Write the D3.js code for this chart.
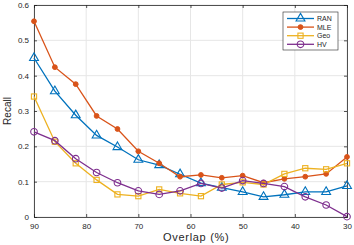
<!DOCTYPE html>
<html>
<head>
<meta charset="utf-8">
<script src="https://cdn.jsdelivr.net/npm/d3@7"></script>
<style>
  body { margin: 0; background: #fff; }
  svg { display: block; font-family: "Liberation Sans", Arial, sans-serif; }
</style>
</head>
<body>
<div id="chart"></div>
<script>
// overlap values on the x axis (reversed axis, 90 -> 30)
var overlap = [90, 86, 82, 78, 74, 70, 66, 62, 58, 54, 50, 46, 42, 38, 34, 30];

var ran = [0.45, 0.356, 0.288, 0.231, 0.198, 0.162, 0.147, 0.121, 0.096, 0.083, 0.071, 0.057, 0.063, 0.071, 0.071, 0.088];
var mle = [0.554, 0.424, 0.376, 0.286, 0.249, 0.186, 0.152, 0.114, 0.119, 0.111, 0.117, 0.097, 0.108, 0.114, 0.122, 0.17];
var geo = [0.341, 0.213, 0.152, 0.105, 0.064, 0.059, 0.078, 0.067, 0.059, 0.092, 0.098, 0.092, 0.122, 0.138, 0.135, 0.152];
var hv  = [0.241, 0.216, 0.165, 0.126, 0.097, 0.074, 0.064, 0.074, 0.095, 0.082, 0.103, 0.095, 0.086, 0.057, 0.034, 0.001];

var seriesNames = ["RAN", "MLE", "Geo", "HV"];
var seriesColors = ["#0072BD", "#D95319", "#EDB120", "#7E2F8E"];
var seriesMarkers = ["triangle", "dot", "square", "circle"];
var seriesValues = [ran, mle, geo, hv];

var xTicks = [90, 80, 70, 60, 50, 40, 30];
var yTicks = [0, 0.1, 0.2, 0.3, 0.4, 0.5, 0.6];

var W = 354, H = 245;
var margin = {top: 5, right: 7, bottom: 28, left: 34};
var width = W - margin.left - margin.right;
var height = H - margin.top - margin.bottom;

var svg = d3.select("#chart").append("svg")
    .attr("width", W)
    .attr("height", H);
var g = svg.append("g")
    .attr("transform", "translate(" + margin.left + "," + margin.top + ")");

var x = d3.scaleLinear().domain([90, 30]).range([0, width]);
var y = d3.scaleLinear().domain([0, 0.6]).range([height, 0]);

// grid
g.append("g").selectAll("line.gx")
    .data(xTicks)
    .enter().append("line")
    .attr("x1", function(d) { return x(d); })
    .attr("x2", function(d) { return x(d); })
    .attr("y1", 0).attr("y2", height)
    .attr("stroke", "#e6e6e6").attr("stroke-width", 1);
g.append("g").selectAll("line.gy")
    .data(yTicks)
    .enter().append("line")
    .attr("y1", function(d) { return y(d); })
    .attr("y2", function(d) { return y(d); })
    .attr("x1", 0).attr("x2", width)
    .attr("stroke", "#e6e6e6").attr("stroke-width", 1);

// axes (MATLAB-ish: ticks inward, box)
var axisColor = "#262626";
var xAxis = g.append("g")
    .attr("transform", "translate(0," + height + ")")
    .call(d3.axisBottom(x).tickValues(xTicks).tickSize(-3).tickPadding(6).tickFormat(d3.format("d")));
var yAxis = g.append("g")
    .call(d3.axisLeft(y).tickValues(yTicks).tickSize(-3).tickPadding(5).tickFormat(function(d) { return d === 0 ? "0" : d3.format(".1f")(d); }));
var xTop = g.append("g")
    .call(d3.axisTop(x).tickValues(xTicks).tickSize(-3).tickFormat(""));
var yRight = g.append("g")
    .attr("transform", "translate(" + width + ",0)")
    .call(d3.axisRight(y).tickValues(yTicks).tickSize(-3).tickFormat(""));

[xAxis, yAxis, xTop, yRight].forEach(function(a) {
    a.select(".domain").attr("stroke", axisColor).attr("stroke-width", 0.8);
    a.selectAll(".tick line").attr("stroke", axisColor).attr("stroke-width", 0.8);
    a.selectAll(".tick text").attr("fill", axisColor).style("font-size", "8px");
});

// axis labels
svg.append("text")
    .attr("x", 163)
    .attr("y", H - 4)
    .attr("fill", axisColor)
    .style("font-size", "11px")
    .style("letter-spacing", "0.7px")
    .text("Overlap (%)");
svg.append("text")
    .attr("transform", "translate(11," + (margin.top + height / 2) + ") rotate(-90)")
    .attr("text-anchor", "middle")
    .attr("fill", axisColor)
    .style("font-size", "10px")
    .text("Recall");

function drawMarker(sel, type, color) {
    if (type === "triangle") {
        sel.append("path")
            .attr("d", d3.symbol().type(d3.symbolTriangle).size(34)())
            .attr("fill", "none").attr("stroke", color).attr("stroke-width", 1.1);
    } else if (type === "dot") {
        sel.append("circle").attr("r", 2.4).attr("fill", color).attr("stroke", color);
    } else if (type === "square") {
        sel.append("rect").attr("x", -2.6).attr("y", -2.6).attr("width", 5.2).attr("height", 5.2)
            .attr("fill", "none").attr("stroke", color).attr("stroke-width", 1.1);
    } else {
        sel.append("circle").attr("r", 3.3)
            .attr("fill", "none").attr("stroke", color).attr("stroke-width", 1.1);
    }
}

var line = d3.line()
    .x(function(d) { return x(d[0]); })
    .y(function(d) { return y(d[1]); });

for (let i = 0; i < seriesValues.length; i++) {
    let pts = overlap.map(function(o, j) { return [o, seriesValues[i][j]]; });
    let sg = g.append("g");
    sg.append("path")
        .datum(pts)
        .attr("fill", "none")
        .attr("stroke", seriesColors[i])
        .attr("stroke-width", 1.3)
        .attr("d", line);
    sg.selectAll("g.m")
        .data(pts)
        .enter().append("g")
        .attr("transform", function(d) { return "translate(" + x(d[0]) + "," + y(d[1]) + ")"; })
        .each(function() { drawMarker(d3.select(this), seriesMarkers[i], seriesColors[i]); });
}

// legend
var lg = svg.append("g").attr("transform", "translate(283,12)");
lg.append("rect")
    .attr("width", 55).attr("height", 38)
    .attr("fill", "#fff").attr("stroke", "#262626").attr("stroke-width", 0.6);
seriesNames.forEach(function(name, i) {
    var row = lg.append("g").attr("transform", "translate(0," + (6.5 + i * 8.6) + ")");
    row.append("line").attr("x1", 4).attr("x2", 31)
        .attr("stroke", seriesColors[i]).attr("stroke-width", 1.3);
    var m = row.append("g").attr("transform", "translate(17.5,0)");
    drawMarker(m, seriesMarkers[i], seriesColors[i]);
    row.append("text").attr("x", 34).attr("y", 2.5)
        .attr("fill", axisColor)
        .style("font-size", "7px")
        .text(name);
});
</script>
</body>
</html>
